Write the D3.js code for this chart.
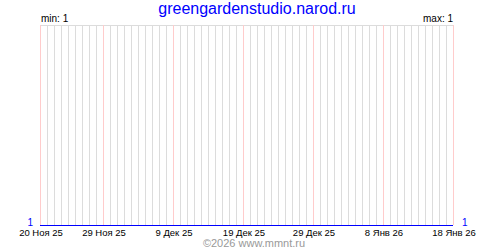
<!DOCTYPE html>
<html><head><meta charset="utf-8">
<script src="https://cdn.jsdelivr.net/npm/d3@7/dist/d3.min.js"></script>
<style>html,body{margin:0;padding:0;background:#fff;}svg{display:block;}</style>
</head><body>
<script>
const title = "greengardenstudio.narod.ru";
const credit = "©2026 www.mmnt.ru";
const startDate = "2025-11-20";
const endDate = "2026-01-18";
const tickDates = ["2025-11-20","2025-11-29","2025-12-09","2025-12-19","2025-12-29","2026-01-08","2026-01-18"];
const tickLabels = ["20 Ноя 25","29 Ноя 25","9 Дек 25","19 Дек 25","29 Дек 25","8 Янв 26","18 Янв 26"];
const values = [1,1,1,1,1,1,1,1,1,1, 1,1,1,1,1,1,1,1,1,1, 1,1,1,1,1,1,1,1,1,1,
                1,1,1,1,1,1,1,1,1,1, 1,1,1,1,1,1,1,1,1,1, 1,1,1,1,1,1,1,1,1,1];

const W = 500, H = 250;
const pLeft = 40, pRight = 453, pTop = 25, pBottom = 225;
const font = "'Liberation Sans', Arial, sans-serif";
const parse = d3.utcParse("%Y-%m-%d");
const t0 = parse(startDate), t1 = parse(endDate);
const days = d3.utcDay.range(t0, d3.utcDay.offset(t1, 1));
const data = days.map((d, i) => ({date: d, value: values[i]}));

const x = d3.scaleUtc().domain([t0, t1]).range([pLeft, pRight]);
const vmin = d3.min(values), vmax = d3.max(values);
const y = d3.scaleLinear().domain([vmin, vmax === vmin ? vmin + 1 : vmax]).range([pBottom, pTop]);

const svg = d3.select("body").append("svg").attr("width", W).attr("height", H)
  .style("font-family", font);

// daily gridlines
svg.append("g").selectAll("line").data(days).join("line")
  .attr("x1", d => Math.round(x(d)) + 0.5).attr("x2", d => Math.round(x(d)) + 0.5)
  .attr("y1", pTop).attr("y2", pBottom)
  .attr("stroke", "#dcdcdc").attr("stroke-width", 1);

// top border
svg.append("line").attr("x1", pLeft).attr("x2", pRight + 1)
  .attr("y1", pTop + 0.5).attr("y2", pTop + 0.5)
  .attr("stroke", "#dcdcdc");

// major (pink) gridlines
const ticks = tickDates.map(parse);
svg.append("g").selectAll("line").data(ticks).join("line")
  .attr("x1", d => Math.round(x(d)) + 0.5).attr("x2", d => Math.round(x(d)) + 0.5)
  .attr("y1", pTop).attr("y2", pBottom)
  .attr("stroke", "#ffcccc").attr("stroke-width", 1);

// data line
svg.append("path").datum(data)
  .attr("d", d3.line().x(d => x(d.date)).y(d => Math.round(y(d.value)) + 0.5))
  .attr("fill", "none").attr("stroke", "#0000ff").attr("stroke-width", 1);

// x labels
svg.append("g").selectAll("text").data(ticks).join("text")
  .attr("x", d => x(d) + 1).attr("y", 235.5)
  .attr("text-anchor", "middle").attr("font-size", 9.5).attr("fill", "#000")
  .text((d, i) => tickLabels[i]);

// value end labels
svg.append("text").attr("x", 33).attr("y", 225.5).attr("text-anchor", "end")
  .attr("font-size", 10).attr("fill", "#0000ff").text(values[0]);
svg.append("text").attr("x", 462).attr("y", 225.5).attr("text-anchor", "start")
  .attr("font-size", 10).attr("fill", "#0000ff").text(values[values.length - 1]);

// min / max
svg.append("text").attr("x", 41).attr("y", 22).attr("font-size", 10).attr("fill", "#000")
  .text("min: " + vmin);
svg.append("text").attr("x", 453).attr("y", 22).attr("text-anchor", "end")
  .attr("font-size", 10).attr("fill", "#000").text("max: " + vmax);

// title
svg.append("text").attr("x", 257).attr("y", 14).attr("text-anchor", "middle")
  .attr("font-size", 16).attr("fill", "#0000ff").text(title);

// credit
svg.append("text").attr("x", 254).attr("y", 246.5).attr("text-anchor", "middle")
  .attr("font-size", 11).attr("fill", "#999").text(credit);
</script>
</body></html>
